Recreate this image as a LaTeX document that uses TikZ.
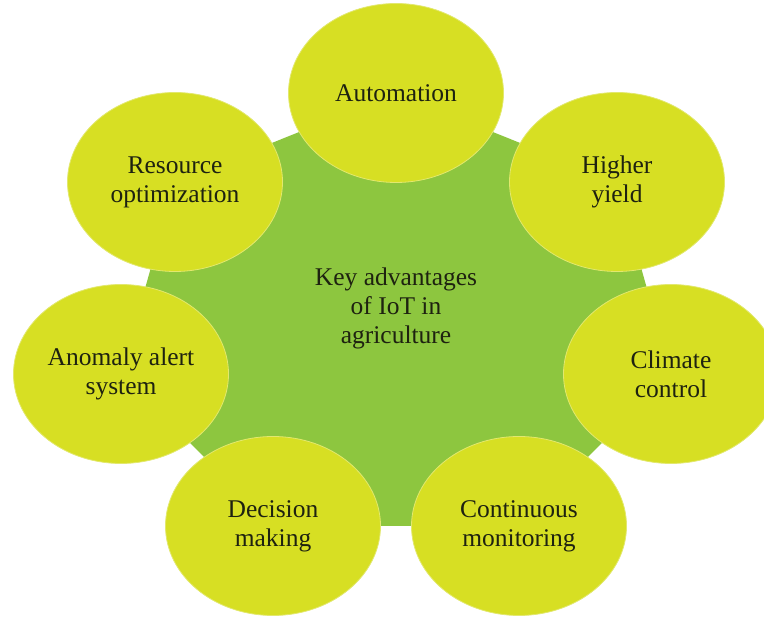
\documentclass[tikz,border=0pt]{standalone}
\usepackage{fontspec}
\setmainfont{Liberation Serif}
\usepackage{tikz}
\usetikzlibrary{shapes.geometric, backgrounds}
\definecolor{hubgreen}{RGB}{141,198,63}
\definecolor{petalfill}{RGB}{215,223,35}
\definecolor{petalrim}{RGB}{226,232,110}
\definecolor{inkdark}{RGB}{30,34,16}
\tikzstyle{petal}=[ellipse, draw=petalrim, line width=0.8pt, fill=petalfill,
minimum width=215pt, minimum height=179pt, inner sep=0pt, align=center,
text=inkdark, font=\fontsize{25.5}{29}\selectfont]
\tikzstyle{hubtext}=[align=center, text=inkdark, font=\fontsize{25.5}{29}\selectfont]

\begin{document}
\begin{tikzpicture}[x=1pt,y=1pt]
      \useasboundingbox (0,0) rectangle (764,617);
      \node [petal] (auto) at (396,524) {Automation};
      \node [petal] (yield) at (617,435) {Higher\\yield};
      \node [petal] (climate) at (671,243) {Climate\\control};
      \node [petal] (monitor) at (519,91) {Continuous\\monitoring};
      \node [petal] (decision) at (273,91) {Decision\\making};
      \node [petal] (anomaly) at (121,243) {Anomaly alert\\system};
      \node [petal] (resource) at (175,435) {Resource\\optimization};
      \node [hubtext] (hub) at (396,309) {Key advantages\\of IoT in\\agriculture};
      % green heptagon through the petal centres
      \begin{pgfonlayer}{background}
      \fill [hubgreen] (auto.center) -- (yield.center) -- (climate.center)
        -- (monitor.center) -- (decision.center) -- (anomaly.center)
        -- (resource.center) -- cycle;
      \end{pgfonlayer}
  \end{tikzpicture}
\end{document}
